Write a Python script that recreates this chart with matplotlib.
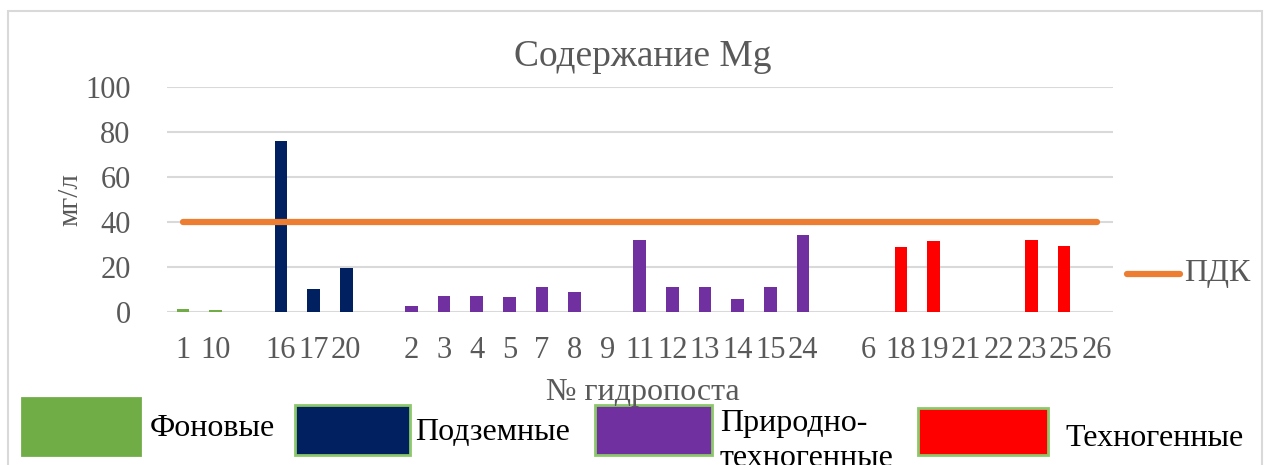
import numpy as np
import matplotlib
matplotlib.use("Agg")
import matplotlib.pyplot as plt
from matplotlib.patches import Rectangle

# station labels along x (empty strings are gaps between groups)
stations = ['1', '10', '', '16', '17', '20', '', '2', '3', '4', '5', '7', '8', '9',
            '11', '12', '13', '14', '15', '24', '', '6', '18', '19', '21', '22',
            '23', '25', '26']
# group of each station
groups = ['fon', 'fon', '', 'podz', 'podz', 'podz', '', 'prir', 'prir', 'prir', 'prir',
          'prir', 'prir', 'prir', 'prir', 'prir', 'prir', 'prir', 'prir', 'prir', '',
          'tech', 'tech', 'tech', 'tech', 'tech', 'tech', 'tech', 'tech']
# Mg content, mg/l
mg = [1.5, 0.9, np.nan, 76.1, 10.1, 19.7, np.nan, 2.6, 7.1, 7.1, 6.5, 11.1, 8.9, 0.0,
      32.1, 11.1, 11.1, 5.9, 11.1, 34.4, np.nan, 0.0, 28.7, 31.6, 0.0, 0.0, 32.1, 29.5, 0.0]
pdk = [40] * len(stations)

group_names = ['fon', 'podz', 'prir', 'tech']
group_labels = ['Фоновые', 'Подземные', 'Природно-\nтехногенные', 'Техногенные']
group_colors = ['#70AD47', '#002060', '#7030A0', '#FF0000']

plt.rcParams['font.family'] = ['Liberation Serif', 'DejaVu Serif']
grey = '#595959'

fig = plt.figure(figsize=(12.7, 4.65), dpi=100)
W, H = 1270, 465

# outer chart frame
fig.patches.append(Rectangle((8 / W, -0.05), (1262 - 8) / W, 1 - 11 / H + 0.05,
                             transform=fig.transFigure, fill=False,
                             edgecolor='#D9D9D9', lw=1.5))

ax = fig.add_axes([166.7 / W, 1 - 312 / H, (1113 - 166.7) / W, (312 - 87) / H])
x = np.arange(len(stations))
mg = np.array(mg)
for g, c in zip(group_names, group_colors):
    m = np.array([gg == g for gg in groups])
    ax.bar(x[m], mg[m], width=0.39, color=c, zorder=3)

ax.plot(x, pdk, color='#ED7D31', lw=4.5, solid_capstyle='round', zorder=4)

ax.set_xlim(-0.5, len(stations) - 0.5)
ax.set_ylim(0, 100)
ax.set_yticks(np.arange(0, 101, 20))
ax.set_xticks(x)
ax.set_xticklabels(stations)
ax.grid(axis='y', color='#D9D9D9', lw=1.5, zorder=0)
for s in ax.spines.values():
    s.set_visible(False)
ax.tick_params(axis='both', length=0, labelsize=22, labelcolor=grey)
ax.tick_params(axis='y', pad=26)
ax.tick_params(axis='x', pad=17)

fig.text(643 / W, 1 - 57 / H, 'Содержание Mg', ha='center', va='center',
         fontsize=27, color=grey)
fig.text(70 / W, 1 - 200 / H, 'мг/л', ha='center', va='center', rotation=90,
         fontsize=21, color=grey)
fig.text(643 / W, 1 - 392 / H, '№ гидропоста', ha='center', va='center',
         fontsize=23, color=grey)

# ПДК legend entry on the right
fig.lines.append(plt.Line2D([1127 / W, 1180 / W], [1 - 274 / H, 1 - 274 / H],
                            transform=fig.transFigure, color='#ED7D31', lw=4.5,
                            solid_capstyle='round'))
fig.text(1184 / W, 1 - 274 / H, 'ПДК', ha='left', va='center', fontsize=23, color=grey)

# bottom legend with big boxes
boxes = [(22, 398, 118, 57), (295, 405, 115, 50), (595, 405, 117, 50), (918, 408, 130, 47)]
text_pos = [(150, 428), (415, 432), (720, 441), (1065, 438)]
for (bx, by, bw, bh), (tx, ty), lab, c in zip(boxes, text_pos, group_labels, group_colors):
    edge = c if c == '#70AD47' else '#8CC86A'
    fig.patches.append(Rectangle((bx / W, 1 - (by + bh) / H), bw / W, bh / H,
                                 transform=fig.transFigure, facecolor=c,
                                 edgecolor=edge, lw=2))
    fig.text(tx / W, 1 - ty / H, lab, ha='left', va='center', fontsize=23,
             color='black', linespacing=1.25)

fig.savefig('out.png', dpi=100)
